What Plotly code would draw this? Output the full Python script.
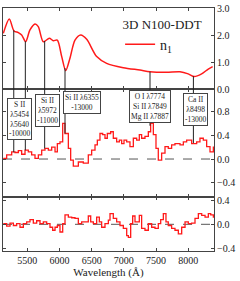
import numpy as np
import plotly.graph_objects as go
from plotly.subplots import make_subplots

# ---- data ----
wl_top = [5128, 5221, 5294, 5361, 5413, 5475, 5542, 5620, 5671, 5749, 5842, 5904, 5966,
          6035, 6097, 6163, 6241, 6330, 6423, 6578, 6733, 6991, 7250, 7406, 7665, 7871,
          8000, 8093, 8208, 8311, 8379]
flux_top = [2.06, 2.59, 2.15, 2.09, 2.00, 1.75, 2.19, 2.41, 2.31, 1.75, 1.88, 1.79, 1.81,
            1.20, 0.68, 1.14, 1.81, 2.00, 1.84, 1.20, 0.95, 0.79, 0.70, 0.64, 0.62, 0.64,
            0.56, 0.46, 0.56, 0.74, 0.83]

wl_mid = [5128, 5180, 5258, 5309, 5361, 5413, 5465, 5516, 5568, 5620, 5672, 5724, 5775,
          5827, 5879, 5931, 5967, 6008, 6050, 6086, 6138, 6174, 6215, 6293, 6370, 6448,
          6500, 6552, 6588, 6629, 6671, 6707, 6743, 6795, 6836, 6888, 6930, 6966, 7002,
          7044, 7095, 7147, 7199, 7240, 7276, 7328, 7380, 7416, 7458, 7499, 7535, 7587,
          7639, 7690, 7742, 7794, 7872, 7924, 7975, 8053, 8131, 8182, 8234, 8286, 8338, 8390]
flux_mid = [0.01, 0.07, 0.12, 0.11, 0.14, 0.08, 0.15, 0.12, 0.07, 0.01, 0.07, 0.15, 0.18,
            0.15, 0.20, 0.12, 0.26, 0.29, 0.60, 0.43, 0.18, -0.02, -0.12, -0.05, -0.07, 0.07,
            0.15, 0.24, 0.32, 0.43, 0.41, 0.35, 0.43, 0.46, 0.35, 0.29, 0.32, 0.26, 0.32,
            0.29, 0.21, 0.35, 0.32, 0.41, 0.35, 0.38, 0.46, 0.60, 0.41, 0.18, -0.02, 0.10,
            0.21, 0.18, 0.24, 0.26, 0.24, 0.29, 0.32, 0.26, 0.29, 0.35, 0.32, 0.21, 0.12, 0.21]

wl_bot = [5128, 5180, 5232, 5284, 5335, 5387, 5439, 5491, 5542, 5594, 5646, 5698, 5749,
          5801, 5853, 5894, 5931, 5967, 6008, 6050, 6086, 6138, 6190, 6241, 6293, 6345,
          6397, 6448, 6485, 6526, 6578, 6619, 6655, 6707, 6759, 6785, 6836, 6888, 6940,
          6992, 7044, 7070, 7106, 7137, 7173, 7209, 7240, 7276, 7328, 7380, 7432, 7484,
          7535, 7572, 7613, 7654, 7690, 7742, 7794, 7846, 7898, 7950, 8001, 8053, 8105,
          8157, 8209, 8261, 8312, 8349, 8390]
flux_bot = [0.01, -0.03, 0.02, -0.02, 0.01, -0.05, 0.01, 0.04, 0.08, 0.02, 0.06, 0.01, 0.04,
            0.01, -0.05, -0.10, -0.05, -0.02, -0.13, 0.01, 0.16, 0.12, 0.11, 0.10, 0.01, 0.04,
            0.04, 0.14, 0.04, 0.01, 0.12, 0.04, -0.05, 0.01, 0.07, 0.18, 0.10, 0.04, -0.02,
            -0.07, -0.19, -0.22, 0.01, 0.14, 0.04, 0.04, 0.15, -0.07, -0.10, 0.01, -0.05, -0.07,
            0.01, 0.08, 0.18, 0.04, -0.02, -0.07, -0.10, -0.16, -0.05, 0.04, 0.01, 0.02, 0.10,
            0.18, 0.15, 0.12, 0.18, 0.16, 0.11]

# line identifications: label text, wavelengths of marker lines, box centre (wavelength, y in mid panel)
ids = [
    ("S II<br>λ5454<br>λ5640<br>-10000", [5290, 5470], 5379, 0.68),
    ("Si II<br>λ5972<br>-11000", [5770], 5814, 0.81),
    ("Si II λ6355<br>-13000", [6086], 6357, 0.96),
    ("O I λ7774<br>Si II λ7849<br>Mg II λ7887", [7406], 7406, 0.88),
    ("Ca II<br>λ8498<br>-13000", [8080], 8120, 0.84),
]

xticks = [5500, 6000, 6500, 7000, 7500, 8000]
top_ticks = [0.0, 1.0, 2.0, 3.0]
mid_ticks = [-0.4, 0.0, 0.4, 0.8]
bot_ticks = [-0.4, 0.0, 0.4]
xrange_ = [5123, 8400]
top_range = [0, 3.0]
mid_range = [-0.64, 1.18]
bot_range = [-0.45, 0.46]

RED = "#ff1a1a"
AX = "#444444"
FONT = "Liberation Serif"

fig = make_subplots(rows=3, cols=1, shared_xaxes=True, vertical_spacing=0,
                    row_heights=[81, 108, 54])

fig.add_trace(go.Scatter(x=wl_top, y=flux_top, mode="lines", line=dict(color=RED, width=1.5, shape="spline", smoothing=0.8),
                         name="n<sub>1</sub>", showlegend=True), row=1, col=1)
fig.add_trace(go.Scatter(x=wl_mid, y=flux_mid, mode="lines", line=dict(color=RED, width=1.3, shape="hv"),
                         showlegend=False), row=2, col=1)
fig.add_trace(go.Scatter(x=wl_bot, y=flux_bot, mode="lines", line=dict(color=RED, width=1.3, shape="hv"),
                         showlegend=False), row=3, col=1)

# zero dashed lines
for yr in ["y2", "y3"]:
    fig.add_shape(type="line", xref="x domain", yref=yr, x0=0, x1=1, y0=0, y1=0,
                  line=dict(color="#555555", width=1, dash="dash"), layer="below")

# identification lines and boxes
for text, lines, bx, by in ids:
    for lw in lines:
        ytop = float(np.interp(lw, wl_top, flux_top))
        ymid = float(np.interp(lw, wl_mid, flux_mid))
        fig.add_shape(type="line", xref="x", yref="y", x0=lw, x1=lw, y0=ytop, y1=top_range[0],
                      line=dict(color="#222222", width=1))
        fig.add_shape(type="line", xref="x", yref="y2", x0=lw, x1=lw, y0=mid_range[1], y1=ymid,
                      line=dict(color="#222222", width=1))
    fig.add_annotation(x=bx, y=by, xref="x", yref="y2", text=text, showarrow=False,
                       font=dict(family=FONT, size=7.5, color="#222222"),
                       bgcolor="white", bordercolor="#444444", borderwidth=1, borderpad=1)

axis_common = dict(showgrid=False, zeroline=False, showline=True, linecolor=AX, linewidth=1,
                   mirror="ticks", ticks="inside", ticklen=3, tickcolor=AX, automargin=False,
                   tickfont=dict(family=FONT, size=10, color="#222222"))

for r in (1, 2, 3):
    fig.update_xaxes(range=xrange_, tickvals=xticks, row=r, col=1, **axis_common)
fig.update_xaxes(showticklabels=True, row=3, col=1,
                 title=dict(text="Wavelength (Å)", font=dict(family=FONT, size=11, color="#222222"), standoff=2))

fig.update_yaxes(range=top_range, tickvals=top_ticks, tickformat=".1f", side="right", row=1, col=1, **axis_common)
fig.update_yaxes(range=mid_range, tickvals=mid_ticks, tickformat=".1f", side="right", row=2, col=1, **axis_common)
fig.update_yaxes(range=bot_range, tickvals=bot_ticks, tickformat=".1f", side="right", row=3, col=1, **axis_common)

fig.update_layout(
    width=240, height=281,
    margin=dict(l=3, r=26, t=8, b=30),
    paper_bgcolor="white", plot_bgcolor="white",
    font=dict(family=FONT, color="#222222"),
    legend=dict(x=0.555, y=0.985, xanchor="left", yanchor="top", bgcolor="rgba(0,0,0,0)",
                font=dict(family=FONT, size=14, color="#222222"),
                title=dict(text="3D N100-DDT", side="top center", font=dict(family=FONT, size=13, color="#222222")),
                itemwidth=30, tracegroupgap=0),
)

fig.write_html("out.html", config={"displayModeBar": False},
               post_script="document.body.style.margin='0';document.body.style.padding='0';")
